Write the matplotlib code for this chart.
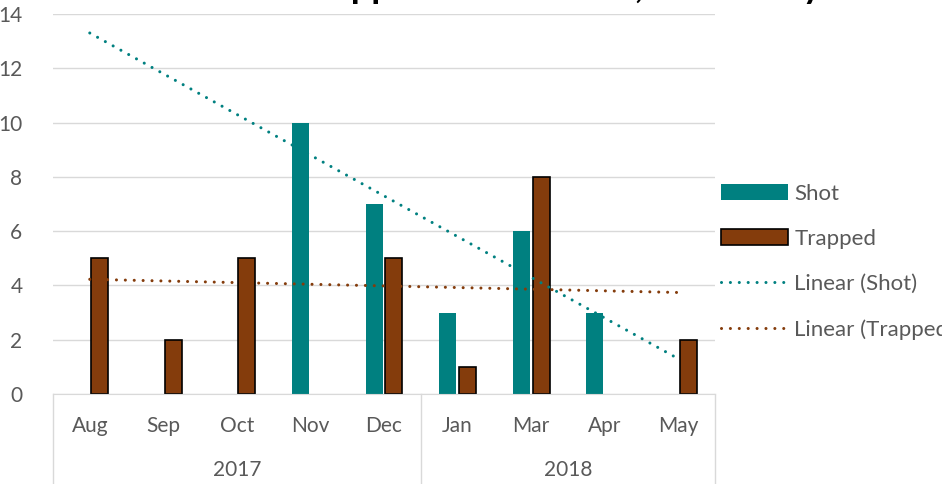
import numpy as np
import matplotlib.pyplot as plt
from matplotlib.lines import Line2D
from matplotlib.patches import Patch

# data (blank months are NaN, Excel skips them in the trendlines)
months = ['Aug', 'Sep', 'Oct', 'Nov', 'Dec', 'Jan', 'Mar', 'Apr', 'May']
years = ['2017', '2018']
year_span = [(0, 4), (5, 8)]
shot = [np.nan, np.nan, np.nan, 10, 7, 3, 6, 3, np.nan]
trapped = [5, 2, 5, np.nan, 5, 1, 8, np.nan, 2]

teal = '#008080'
brown = '#843C0C'
grey_txt = '#595959'
grid_c = '#d9d9d9'

plt.rcParams['font.family'] = ['Lato', 'DejaVu Sans']

fig = plt.figure(figsize=(9.42, 4.84), dpi=100)
ax = fig.add_axes([53 / 942, 1 - 394 / 484, (715 - 53) / 942, (394 - 14) / 484])

x = np.arange(len(months))
w = 0.23
s = np.array(shot, dtype=float)
t = np.array(trapped, dtype=float)
ax.bar(x[~np.isnan(s)] - 0.135, s[~np.isnan(s)], w, color=teal, zorder=2)
ax.bar(x[~np.isnan(t)] + 0.135, t[~np.isnan(t)], w, color=brown, edgecolor='black',
       linewidth=1.2, zorder=2)

# linear trendlines
dots = dict(linewidth=2.2, dashes=(0.01, 2.9), dash_capstyle='round', zorder=3)
for v, c in [(s, teal), (t, brown)]:
    ok = ~np.isnan(v)
    k, b = np.polyfit(x[ok] + 1, v[ok], 1)
    ax.plot([x[0], x[-1]], [k * 1 + b, k * 9 + b], color=c, **dots)

ax.set_xlim(-0.5, len(months) - 0.5)
ax.set_ylim(0, 14)
ax.set_yticks(range(0, 15, 2))
ax.yaxis.grid(True, color=grid_c, linewidth=1)
ax.set_axisbelow(True)
for sp in ['top', 'right', 'left']:
    ax.spines[sp].set_visible(False)
ax.spines['bottom'].set_color(grid_c)
ax.set_xticks(x)
ax.set_xticklabels(months)
ax.tick_params(axis='x', length=0, pad=16, labelsize=15, labelcolor=grey_txt)
ax.tick_params(axis='y', length=0, pad=22, labelsize=15, labelcolor=grey_txt)

# two-level category axis
tr = ax.get_xaxis_transform()
for xv in [-0.5, 4.5, 8.5]:
    ax.plot([xv, xv], [0, -0.3], color=grid_c, linewidth=1, transform=tr, clip_on=False)
for yr, (a, b) in zip(years, year_span):
    ax.text((a + b) / 2, -0.2, yr, transform=tr, ha='center', va='center',
            fontsize=15, color=grey_txt)

# title, mostly above the visible area
fig.text(146 / 942, 1 + 2 / 484, 'Shot and Trapped Each Month, 2017 Tally',
         ha='left', va='baseline', fontsize=26, fontweight='bold')

handles = [Patch(facecolor=teal), Patch(facecolor=brown, edgecolor='black', linewidth=1.2),
           Line2D([], [], color=teal, **dots), Line2D([], [], color=brown, **dots)]
labels = ['Shot', 'Trapped', 'Linear (Shot)', 'Linear (Trapped)']
fig.legend(handles, labels, loc='upper left', bbox_to_anchor=(712 / 942, 1 - 175 / 484),
           frameon=False, fontsize=16, labelcolor=grey_txt, handlelength=3.0,
           handletextpad=0.3, labelspacing=1.13, borderaxespad=0)

fig.savefig('out.png', dpi=100)
